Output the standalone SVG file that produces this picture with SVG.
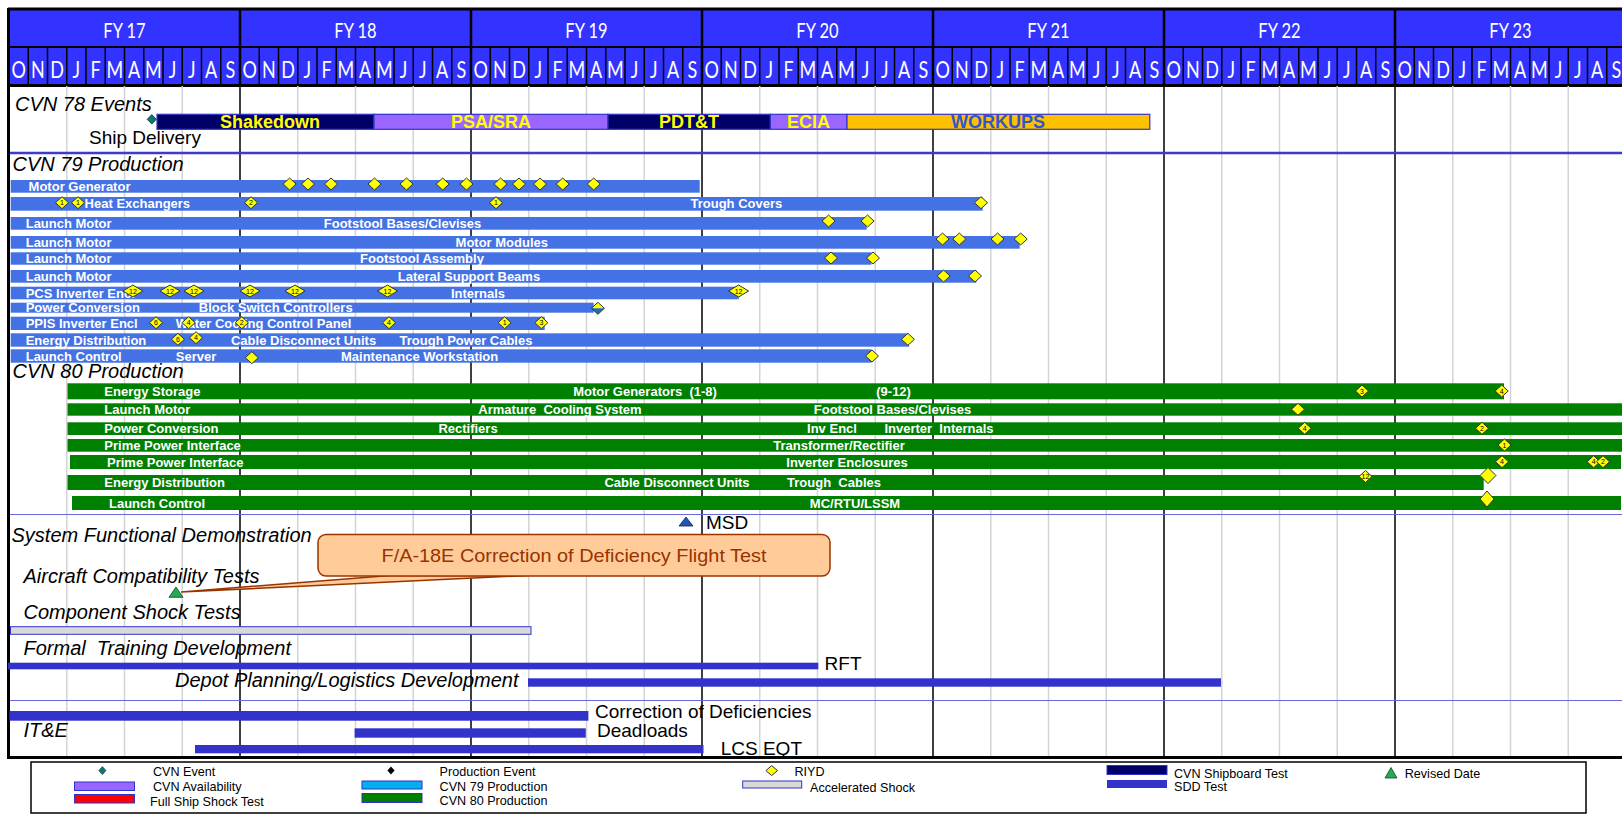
<svg xmlns="http://www.w3.org/2000/svg" width="1622" height="816" viewBox="0 0 1622 816">
<defs>
<style>
text{white-space:pre}
.sec{font-family:"Liberation Sans",Arial,sans-serif;font-style:italic;font-size:20px;fill:#000}
.bl{font-family:"Liberation Sans",Arial,sans-serif;font-weight:bold;font-size:13px;fill:#fff}
.c{text-anchor:middle}
.big{font-family:"Liberation Sans",Arial,sans-serif;font-size:19px;fill:#000}
.lg{font-family:"Liberation Sans",Arial,sans-serif;font-size:12.6px;fill:#000}
.ev{font-family:"Liberation Sans",Arial,sans-serif;font-weight:bold;font-size:18px;fill:#ffff00;text-anchor:middle}
.hdr{font-family:Lato,"Liberation Sans",sans-serif;fill:#fff;text-anchor:middle}
.b79{fill:#4472e4}
.b80{fill:#008000}
.sdd{fill:#3333cc}
.dia{fill:#ffff00;stroke:#333;stroke-width:1}
.num{font-family:"Liberation Sans",Arial,sans-serif;font-size:7px;fill:#000;text-anchor:middle}
.ebar{stroke:#3333cc;stroke-width:1.2}
</style>
<path id="d" d="M-6.5,0L0,-6L6.5,0L0,6Z"/>
<path id="dw" d="M-10,0L0,-6L10,0L0,6Z"/>
<path id="dbig" d="M-8,0L0,-8L8,0L0,8Z"/>
</defs>
<rect width="1622" height="816" fill="#fff"/>

<g id="header">
<rect x="8" y="9" width="1614" height="77" fill="#3333ff"/>
<line x1="8" y1="9" x2="1622" y2="9" stroke="#000" stroke-width="3"/>
<line x1="8" y1="47" x2="1622" y2="47" stroke="#000" stroke-width="2"/>
<line x1="8" y1="85.5" x2="1622" y2="85.5" stroke="#000" stroke-width="3"/>
<path d="M28.25 47V85M47.5 47V85M66.75 47V85M86 47V85M105.25 47V85M124.5 47V85M143.75 47V85M163 47V85M182.25 47V85M201.5 47V85M220.75 47V85M259.25 47V85M278.5 47V85M297.75 47V85M317 47V85M336.25 47V85M355.5 47V85M374.75 47V85M394 47V85M413.25 47V85M432.5 47V85M451.75 47V85M490.25 47V85M509.5 47V85M528.75 47V85M548 47V85M567.25 47V85M586.5 47V85M605.75 47V85M625 47V85M644.25 47V85M663.5 47V85M682.75 47V85M721.25 47V85M740.5 47V85M759.75 47V85M779 47V85M798.25 47V85M817.5 47V85M836.75 47V85M856 47V85M875.25 47V85M894.5 47V85M913.75 47V85M952.25 47V85M971.5 47V85M990.75 47V85M1010 47V85M1029.25 47V85M1048.5 47V85M1067.75 47V85M1087 47V85M1106.25 47V85M1125.5 47V85M1144.75 47V85M1183.25 47V85M1202.5 47V85M1221.75 47V85M1241 47V85M1260.25 47V85M1279.5 47V85M1298.75 47V85M1318 47V85M1337.25 47V85M1356.5 47V85M1375.75 47V85M1414.25 47V85M1433.5 47V85M1452.75 47V85M1472 47V85M1491.25 47V85M1510.5 47V85M1529.75 47V85M1549 47V85M1568.25 47V85M1587.5 47V85M1606.75 47V85" stroke="#000" stroke-width="1.5" fill="none"/>
<path d="M240 9V86M471 9V86M702 9V86M933 9V86M1164 9V86M1395 9V86" stroke="#000" stroke-width="2.5" fill="none"/>
<g class="hdr" transform="scale(0.75,1)">
<text x="166" y="38" font-size="22">FY 17</text>
<text x="474" y="38" font-size="22">FY 18</text>
<text x="782" y="38" font-size="22">FY 19</text>
<text x="1090" y="38" font-size="22">FY 20</text>
<text x="1398" y="38" font-size="22">FY 21</text>
<text x="1706" y="38" font-size="22">FY 22</text>
<text x="2014" y="38" font-size="22">FY 23</text>
<text font-size="24" y="78" x="24.8 50.5 76.2 101.8 127.5 153.2 178.8 204.5 230.2 255.8 281.5 307.2">ONDJFMAMJJAS</text>
<text font-size="24" y="78" x="332.8 358.5 384.2 409.8 435.5 461.2 486.8 512.5 538.2 563.8 589.5 615.2">ONDJFMAMJJAS</text>
<text font-size="24" y="78" x="640.8 666.5 692.2 717.8 743.5 769.2 794.8 820.5 846.2 871.8 897.5 923.2">ONDJFMAMJJAS</text>
<text font-size="24" y="78" x="948.8 974.5 1000.2 1025.8 1051.5 1077.2 1102.8 1128.5 1154.2 1179.8 1205.5 1231.2">ONDJFMAMJJAS</text>
<text font-size="24" y="78" x="1256.8 1282.5 1308.2 1333.8 1359.5 1385.2 1410.8 1436.5 1462.2 1487.8 1513.5 1539.2">ONDJFMAMJJAS</text>
<text font-size="24" y="78" x="1564.8 1590.5 1616.2 1641.8 1667.5 1693.2 1718.8 1744.5 1770.2 1795.8 1821.5 1847.2">ONDJFMAMJJAS</text>
<text font-size="24" y="78" x="1872.8 1898.5 1924.2 1949.8 1975.5 2001.2 2026.8 2052.5 2078.2 2103.8 2129.5 2155.2">ONDJFMAMJJAS</text>
</g>
</g>

<g id="grid">
<path d="M66.75 86V757M124.5 86V757M182.25 86V757M297.75 86V757M355.5 86V757M413.25 86V757M528.75 86V757M586.5 86V757M644.25 86V757M759.75 86V757M817.5 86V757M875.25 86V757M990.75 86V757M1048.5 86V757M1106.25 86V757M1221.75 86V757M1279.5 86V757M1337.25 86V757M1452.75 86V757M1510.5 86V757M1568.25 86V757" stroke="#d4d4d4" stroke-width="1.5" fill="none"/>
<path d="M240 86V757M471 86V757M702 86V757M933 86V757M1164 86V757M1395 86V757" stroke="#000" stroke-width="1.5" fill="none"/>
<line x1="8.5" y1="8" x2="8.5" y2="759" stroke="#000" stroke-width="3"/>
<line x1="8" y1="757.5" x2="1622" y2="757.5" stroke="#000" stroke-width="3"/>
<line x1="10" y1="153" x2="1622" y2="153" stroke="#3b3bcc" stroke-width="2.5"/>
<line x1="10" y1="514.5" x2="1622" y2="514.5" stroke="#6a6ae0" stroke-width="1"/>
<line x1="10" y1="700.5" x2="1622" y2="700.5" stroke="#6a6ae0" stroke-width="1"/>
</g>

<g id="cvn78">
<text class="sec" x="15" y="111">CVN 78 Events</text>
<path d="M151.8,114.6L156.4,119.3L151.8,124L147.2,119.3Z" fill="#00806a" stroke="#224" stroke-width="0.8"/>
<rect class="ebar" x="157" y="114.3" width="217" height="15" fill="#000066"/>
<rect class="ebar" x="374" y="114.3" width="234" height="15" fill="#9966ff"/>
<rect class="ebar" x="608" y="114.3" width="162.4" height="15" fill="#000066"/>
<rect class="ebar" x="770.4" y="114.3" width="76.6" height="15" fill="#9966ff"/>
<rect class="ebar" x="847" y="114.3" width="302.8" height="15" fill="#ffc000"/>
<text class="ev" x="270" y="128">Shakedown</text>
<text class="ev" x="491" y="128">PSA/SRA</text>
<text class="ev" x="689" y="128">PDT&amp;T</text>
<text class="ev" x="808.6" y="128">ECIA</text>
<text class="ev" x="998" y="128" style="fill:#3355cc">WORKUPS</text>
<text class="big" x="89" y="144">Ship Delivery</text>
</g>

<g id="cvn79">
<text class="sec" x="12.5" y="171">CVN 79 Production</text>
<rect class="b79" x="10.7" y="180" width="689" height="12.7"/>
<rect class="b79" x="10.7" y="197" width="972" height="13.7"/>
<rect class="b79" x="10.7" y="217" width="856" height="12.7"/>
<rect class="b79" x="10.7" y="236" width="1009" height="12.7"/>
<rect class="b79" x="10.7" y="252.3" width="860.7" height="12.4"/>
<rect class="b79" x="10.7" y="270" width="965.7" height="12.7"/>
<rect class="b79" x="10.7" y="286.7" width="728" height="12.6"/>
<rect class="b79" x="10.7" y="302.7" width="583" height="10"/>
<rect class="b79" x="10.7" y="316.7" width="534" height="13.3"/>
<rect class="b79" x="10.7" y="333.3" width="898.3" height="13.4"/>
<rect class="b79" x="10.7" y="349.3" width="860.7" height="13.4"/>
<text class="bl" x="28.6" y="190.8">Motor Generator</text>
<text class="bl" x="84.6" y="208">Heat Exchangers</text>
<text class="bl c" x="736.4" y="208">Trough Covers</text>
<text class="bl" x="25.7" y="227.5">Launch Motor</text>
<text class="bl c" x="402.5" y="227.5">Footstool Bases/Clevises</text>
<text class="bl" x="25.7" y="246.5">Launch Motor</text>
<text class="bl c" x="501.8" y="246.5">Motor Modules</text>
<text class="bl" x="25.7" y="262.5">Launch Motor</text>
<text class="bl c" x="422" y="262.5">Footstool Assembly</text>
<text class="bl" x="25.7" y="280.5">Launch Motor</text>
<text class="bl c" x="469" y="280.5">Lateral Support Beams</text>
<text class="bl" x="25.7" y="297.5">PCS Inverter Encl</text>
<text class="bl c" x="478" y="297.5">Internals</text>
<text class="bl" x="25.7" y="311.5">Power Conversion</text>
<text class="bl c" x="275.7" y="311.5">Block Switch Controllers</text>
<text class="bl" x="25.7" y="328">PPIS Inverter Encl</text>
<text class="bl c" x="263.6" y="328">Water Cooling Control Panel</text>
<text class="bl" x="25.7" y="344.5">Energy Distribution</text>
<text class="bl c" x="303.6" y="344.5">Cable Disconnect Units</text>
<text class="bl c" x="466" y="344.5">Trough Power Cables</text>
<text class="bl" x="25.7" y="360.5">Launch Control</text>
<text class="bl c" x="196" y="360.5">Server</text>
<text class="bl c" x="419.6" y="360.5">Maintenance Workstation</text>
<g class="dia">
<use href="#d" x="289.6" y="184"/><use href="#d" x="308" y="184"/><use href="#d" x="331" y="184"/><use href="#d" x="374.5" y="184"/><use href="#d" x="406.5" y="184"/><use href="#d" x="442.7" y="184"/><use href="#d" x="466.5" y="184"/><use href="#d" x="500.6" y="184"/><use href="#d" x="519" y="184"/><use href="#d" x="540" y="184"/><use href="#d" x="562.7" y="184"/><use href="#d" x="593.7" y="184"/>
<use href="#d" x="62" y="202.7"/><use href="#d" x="78" y="202.7"/><use href="#d" x="251" y="202.7"/><use href="#d" x="496" y="202.7"/><use href="#d" x="981" y="202.7"/>
<use href="#d" x="828.6" y="221"/><use href="#d" x="867.5" y="221"/>
<use href="#d" x="942.5" y="239"/><use href="#d" x="959.3" y="239"/><use href="#d" x="997.5" y="239"/><use href="#d" x="1020.7" y="239"/>
<use href="#d" x="831" y="258"/><use href="#d" x="873" y="258"/>
<use href="#d" x="943.6" y="276"/><use href="#d" x="975" y="276"/>
<use href="#dw" x="132.9" y="291"/><use href="#dw" x="170" y="291"/><use href="#dw" x="194" y="291"/><use href="#dw" x="250" y="291"/><use href="#dw" x="295" y="291"/><use href="#dw" x="387.5" y="291"/><use href="#dw" x="738.6" y="291"/>
<use href="#d" x="156" y="322.7"/><use href="#d" x="188.6" y="322.7"/><use href="#d" x="241.8" y="322.7"/><use href="#d" x="389" y="322.7"/><use href="#d" x="504.6" y="322.7"/><use href="#d" x="541.4" y="322.7"/>
<use href="#d" x="177.9" y="339.3"/><use href="#d" x="196" y="337.7"/><use href="#d" x="907.9" y="339.3"/>
<use href="#d" x="251.8" y="357.7"/><use href="#d" x="872" y="356"/>
</g>
<path d="M591.4,308.3L597.9,302.3L604.4,308.3Z" fill="#ffff00"/>
<path d="M591.4,308.3L597.9,314.3L604.4,308.3Z" fill="#1f6fa8"/>
<path d="M591.4,308.3L597.9,302.3L604.4,308.3L597.9,314.3Z" fill="none" stroke="#333" stroke-width="1"/>
<g class="num">
<text x="62" y="205">1</text><text x="78" y="205">1</text><text x="251" y="205">2</text><text x="496" y="205">1</text>
<text x="132.9" y="293.5">12</text><text x="170" y="293.5">12</text><text x="194" y="293.5">12</text><text x="250" y="293.5">12</text><text x="295" y="293.5">12</text><text x="387.5" y="293.5">12</text><text x="738.6" y="293.5">12</text>
<text x="156" y="325.2">6</text><text x="188.6" y="325.2">4</text><text x="241.8" y="325.2">2</text><text x="389" y="325.2">4</text><text x="504.6" y="325.2">1</text><text x="541.4" y="325.2">3</text>
<text x="177.9" y="341.8">6</text><text x="196" y="340.2">4</text>
</g>
</g>

<g id="cvn80">
<text class="sec" x="12.5" y="378">CVN 80 Production</text>
<rect class="b80" x="67.5" y="383.3" width="1436.5" height="16"/>
<rect class="b80" x="67.5" y="403.3" width="1554.5" height="12.4"/>
<rect class="b80" x="67.5" y="422.3" width="1554.5" height="12.7"/>
<rect class="b80" x="67.5" y="439" width="1554.5" height="12.7"/>
<rect class="b80" x="70" y="455" width="1551" height="14"/>
<rect class="b80" x="67.5" y="475" width="1416.2" height="15"/>
<rect class="b80" x="72" y="496" width="1549" height="14"/>
<text class="bl" x="104.3" y="395.8">Energy Storage</text>
<text class="bl c" x="645" y="395.8">Motor Generators  (1-8)</text>
<text class="bl c" x="893.6" y="395.8">(9-12)</text>
<text class="bl" x="104.3" y="414">Launch Motor</text>
<text class="bl c" x="560" y="414">Armature  Cooling System</text>
<text class="bl c" x="892.5" y="414">Footstool Bases/Clevises</text>
<text class="bl" x="104.3" y="433">Power Conversion</text>
<text class="bl c" x="468" y="433">Rectifiers</text>
<text class="bl c" x="832" y="433">Inv Encl</text>
<text class="bl c" x="939" y="433">Inverter  Internals</text>
<text class="bl" x="104.3" y="449.8">Prime Power Interface</text>
<text class="bl c" x="839" y="449.8">Transformer/Rectifier</text>
<text class="bl" x="107" y="466.5">Prime Power Interface</text>
<text class="bl c" x="847" y="466.5">Inverter Enclosures</text>
<text class="bl" x="104.3" y="487">Energy Distribution</text>
<text class="bl c" x="677" y="487">Cable Disconnect Units</text>
<text class="bl c" x="834" y="487">Trough  Cables</text>
<text class="bl" x="109" y="507.5">Launch Control</text>
<text class="bl c" x="855" y="507.5">MC/RTU/LSSM</text>
<g class="dia">
<use href="#d" x="1362" y="391"/><use href="#d" x="1501.7" y="391"/>
<use href="#d" x="1298" y="409.3"/>
<use href="#d" x="1304.7" y="428.3"/><use href="#d" x="1482" y="428.3"/>
<use href="#d" x="1504.5" y="445"/>
<use href="#d" x="1502" y="461.7"/><use href="#d" x="1593.6" y="461.7"/><use href="#d" x="1603" y="461.7"/>
<use href="#d" x="1365.5" y="476.5"/><use href="#dbig" x="1488" y="475.5"/>
<path d="M1487,491L1494,499L1487,507L1480,499Z"/>
</g>
<g class="num">
<text x="1362" y="393.5">3</text><text x="1501.7" y="393.5">4</text>
<text x="1304.7" y="430.8">4</text><text x="1482" y="430.8">2</text>
<text x="1504.5" y="447.5">1</text>
<text x="1502" y="464.2">4</text><text x="1593.6" y="464.2">4</text><text x="1603" y="464.2">2</text>
<text x="1365.5" y="479">12</text>
</g>
</g>

<g id="tests">
<path d="M679,526L693,526L686,517Z" fill="#2255bb" stroke="#112244" stroke-width="0.8"/>
<text class="big" x="706" y="529" font-size="18">MSD</text>
<text class="sec" x="11.5" y="541.5">System Functional Demonstration</text>
<path d="M389.6,575.5L528,575.5L181,592Z" fill="#ffcc99" stroke="#993300" stroke-width="1.5"/>
<rect x="318" y="534.5" width="512" height="41.5" rx="8" fill="#ffcc99" stroke="#993300" stroke-width="1.5"/>
<text x="574" y="561.7" font-family="Liberation Sans, Arial, sans-serif" font-size="19" fill="#993300" text-anchor="middle" textLength="385" lengthAdjust="spacingAndGlyphs">F/A-18E Correction of Deficiency Flight Test</text>
<text class="sec" x="23.5" y="582.5">Aircraft Compatibility Tests</text>
<path d="M169,597.3L183,597.3L176,587Z" fill="#22aa55" stroke="#114422" stroke-width="0.8"/>
<text class="sec" x="23.5" y="619">Component Shock Tests</text>
<rect x="10.5" y="626.7" width="520.5" height="7.6" fill="#d9d9d9" stroke="#3333cc" stroke-width="1"/>
<text class="sec" x="23.5" y="655">Formal  Training Development</text>
<rect class="sdd" x="8" y="662.7" width="810.3" height="6.6"/>
<text class="big" x="824.6" y="670">RFT</text>
<text class="sec" x="175" y="686.5">Depot Planning/Logistics Development</text>
<rect class="sdd" x="528" y="678.3" width="693" height="8.4"/>
<rect class="sdd" x="9.4" y="711" width="579" height="9.7"/>
<text class="big" x="595" y="717.5">Correction of Deficiencies</text>
<text class="sec" x="23.5" y="736.5">IT&amp;E</text>
<rect class="sdd" x="354.6" y="728.3" width="231.2" height="9.4"/>
<text class="big" x="597" y="737">Deadloads</text>
<rect class="sdd" x="195" y="745" width="508.5" height="8.3"/>
<text class="big" x="720.7" y="754.5">LCS EQT</text>
</g>

<g id="legend">
<rect x="31" y="762" width="1555" height="51" fill="#fff" stroke="#000" stroke-width="1.5"/>
<path d="M102.4,766.6L106,770.6L102.4,774.6L98.8,770.6Z" fill="#00806a" stroke="#224" stroke-width="0.6"/>
<text class="lg" x="153" y="776">CVN Event</text>
<rect x="74.5" y="782" width="60" height="8.5" fill="#9966ff" stroke="#3333cc" stroke-width="1"/>
<text class="lg" x="153" y="791">CVN Availability</text>
<rect x="74.5" y="794.5" width="60" height="8.5" fill="#ff0000" stroke="#3333cc" stroke-width="1"/>
<text class="lg" x="150" y="806">Full Ship Shock Test</text>
<path d="M391,766.6L394.6,770.6L391,774.6L387.4,770.6Z" fill="#000"/>
<text class="lg" x="439.6" y="776">Production Event</text>
<rect x="362" y="781" width="60" height="8" fill="#00b0f0" stroke="#3333cc" stroke-width="1"/>
<text class="lg" x="439.6" y="791">CVN 79 Production</text>
<rect x="362" y="793.5" width="60" height="9" fill="#008000" stroke="#3333cc" stroke-width="1"/>
<text class="lg" x="439.6" y="805">CVN 80 Production</text>
<path d="M771.7,765.6L777.5,770.6L771.7,775.6L765.9,770.6Z" fill="#ffff00" stroke="#333" stroke-width="1"/>
<text class="lg" x="794.4" y="776">RIYD</text>
<rect x="742.7" y="781" width="59" height="7" fill="#d9d9d9" stroke="#3333cc" stroke-width="1"/>
<text class="lg" x="810" y="792">Accelerated Shock</text>
<rect x="1107" y="765.5" width="60" height="9" fill="#000066" stroke="#3333cc" stroke-width="1"/>
<text class="lg" x="1174" y="778">CVN Shipboard Test</text>
<rect x="1107" y="780" width="60" height="8" fill="#3333cc"/>
<text class="lg" x="1174" y="791">SDD Test</text>
<path d="M1385,778L1397,778L1391,767.5Z" fill="#22aa55" stroke="#114422" stroke-width="0.8"/>
<text class="lg" x="1404.7" y="778">Revised Date</text>
</g>
</svg>
